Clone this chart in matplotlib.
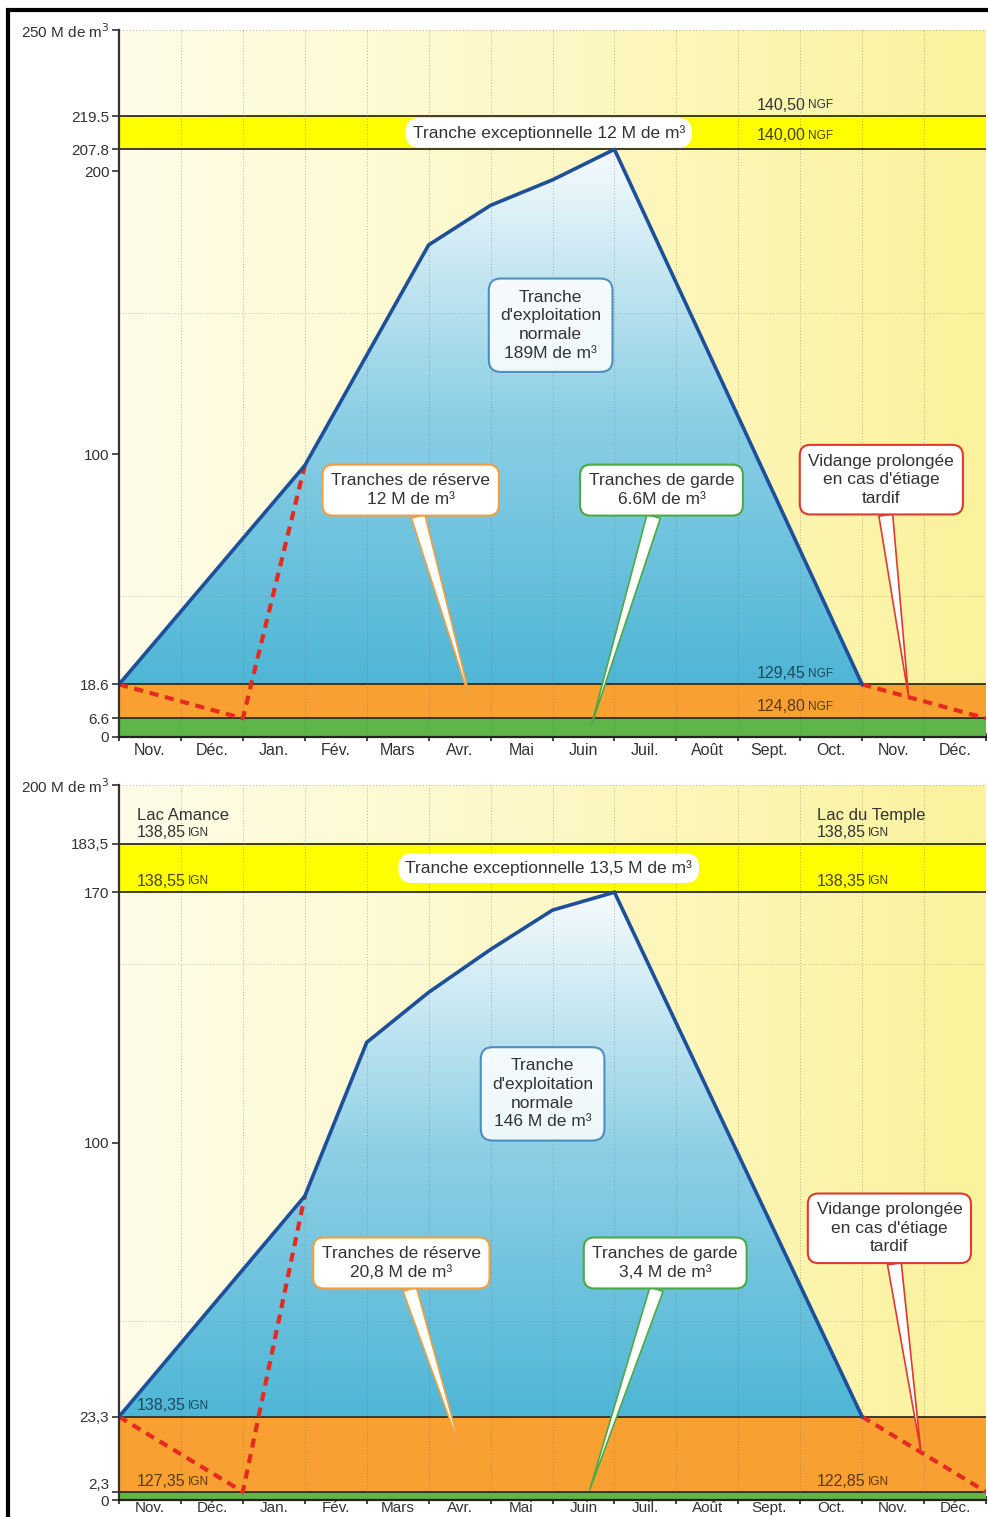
import numpy as np
import matplotlib
matplotlib.use("Agg")
import matplotlib.pyplot as plt
from matplotlib.patches import Polygon, Rectangle
from matplotlib.colors import LinearSegmentedColormap

plt.rcParams['font.family'] = ['Liberation Sans', 'DejaVu Sans']

# ---- data -------------------------------------------------------------
months = ["Nov.", "Déc.", "Jan.", "Fév.", "Mars", "Avr.", "Mai", "Juin",
          "Juil.", "Août", "Sept.", "Oct.", "Nov.", "Déc."]

# top reservoir (M de m3)
top_x = [0, 3, 5, 6, 7, 8, 12]
top_y = [18.6, 96, 174, 188, 197, 207.8, 18.6]
top_reserve_x = [0, 2, 3]
top_reserve_y = [18.6, 6.6, 96]
top_late_x = [12, 14]
top_late_y = [18.6, 6.6]
top_levels = [0, 6.6, 18.6, 207.8, 219.5]
top_ticks = [0, 6.6, 18.6, 100, 200, 207.8, 219.5, 250]
top_ticklabels = ["0", "6.6", "18.6", "100", "200", "207.8", "219.5", "250 M de m$^3$"]

# bottom reservoirs (M de m3)
bot_x = [0, 3, 4, 5, 6, 7, 8, 12]
bot_y = [23.3, 85, 128, 142, 154, 165, 170, 23.3]
bot_reserve_x = [0, 2, 3]
bot_reserve_y = [23.3, 2.3, 85]
bot_late_x = [12, 14]
bot_late_y = [23.3, 2.3]
bot_levels = [0, 2.3, 23.3, 170, 183.5]
bot_ticks = [0, 2.3, 23.3, 100, 170, 183.5, 200]
bot_ticklabels = ["0", "2,3", "23,3", "100", "170", "183,5", "200 M de m$^3$"]

# ---- style ------------------------------------------------------------
GREEN = "#5db647"
ORANGE = "#f9a033"
YELLOW = "#ffff00"
BLUE_LINE = "#1d4f9a"
RED = "#e52a20"
TXT = "#333333"

bg_cmap = LinearSegmentedColormap.from_list("bg", ["#fffde8", "#fdf8c6", "#fbf29c"])
water_cmap = LinearSegmentedColormap.from_list("water", ["#4fb6d6", "#8ccfe5", "#f6fbfd"])

fig = plt.figure(figsize=(9.88, 15.17), dpi=100)
W, H = 988, 1517


def px_axes(left, top, right, bottom):
    return fig.add_axes([left / W, 1 - bottom / H, (right - left) / W, (bottom - top) / H])


def level_text(ax, x, y, num, unit, color, va="bottom"):
    t = ax.text(x, y, num, fontsize=11.5, color=color, va=va, ha="left")
    ax.annotate(unit, xy=(1, 0), xycoords=t, xytext=(1.5, 1), textcoords="offset points",
                fontsize=8.5, color=color, va="bottom", ha="left")


def callout(ax, text, box_xy, tip_xy, ec):
    ax.annotate(text, xy=tip_xy, xytext=box_xy, ha="center", va="center",
                fontsize=12.5, color=TXT, zorder=8, linespacing=1.3,
                bbox=dict(boxstyle="round,pad=0.5,rounding_size=0.6", fc="white", ec=ec, lw=1.5),
                arrowprops=dict(arrowstyle="wedge,tail_width=0.8", fc="white", ec=ec, lw=1.2,
                                shrinkA=0, shrinkB=0))


def panel(ax, ymax, cx, cy, rx, ry, lx, ly, levels, ticks, ticklabels, xpad=4, xsize=11.5):
    ax.set_xlim(0, 14)
    ax.set_ylim(0, ymax)
    # background gradient
    grad = np.linspace(0, 1, 256).reshape(1, -1)
    ax.imshow(grad, extent=[0, 14, 0, ymax], aspect="auto", cmap=bg_cmap, zorder=0)
    # water body between curve and upper orange level
    base = levels[2]
    water = Polygon(list(zip(cx, cy)), closed=True, fc="none", ec="none")
    ax.add_patch(water)
    vgrad = np.linspace(0, 1, 256).reshape(-1, 1)
    im = ax.imshow(vgrad, extent=[0, 14, base, max(cy)], origin="lower", aspect="auto",
                   cmap=water_cmap, zorder=1)
    im.set_clip_path(water)
    # bands
    ax.axhspan(levels[0], levels[1], color=GREEN, zorder=2, lw=0)
    ax.axhspan(levels[1], levels[2], color=ORANGE, zorder=2, lw=0)
    ax.axhspan(levels[3], levels[4], color=YELLOW, zorder=2, lw=0)
    for lv in levels[1:]:
        ax.axhline(lv, color="#2e2e22", lw=1.3, zorder=3)
    # grid
    for m in range(1, 14):
        ax.axvline(m, color="#6f6f6f", lw=0.7, ls=(0, (1, 2)), alpha=0.5, zorder=4)
    for g in (50, 150):
        ax.axhline(g, color="#8a8a8a", lw=0.7, ls=(0, (1, 2)), alpha=0.5, zorder=4)
    ax.axhline(ymax, color="#8a8a8a", lw=0.8, ls=(0, (1, 2)), alpha=0.5, zorder=4, clip_on=False)
    # lines
    ax.plot(cx, cy, color=BLUE_LINE, lw=2.6, zorder=6, solid_joinstyle="miter")
    ax.plot(rx, ry, color=RED, lw=3, ls=(0, (2.2, 1.6)), zorder=5)
    ax.plot(lx, ly, color=RED, lw=3, ls=(0, (2.2, 1.6)), zorder=5)
    # axes
    for s in ("top", "right"):
        ax.spines[s].set_visible(False)
    ax.spines["left"].set_color("#333333")
    ax.spines["left"].set_linewidth(1.6)
    ax.spines["bottom"].set_color("#222222")
    ax.spines["bottom"].set_linewidth(1.6)
    ax.spines["left"].set_zorder(7)
    ax.spines["bottom"].set_zorder(7)
    ax.set_yticks(ticks)
    ax.set_yticklabels(ticklabels, fontsize=11, color=TXT)
    ax.tick_params(axis="y", direction="out", length=5, width=1.2, color="#333333", pad=2)
    ax.set_xticks(range(15))
    ax.set_xticklabels([])
    ax.set_xticks(np.arange(14) + 0.5, minor=True)
    ax.set_xticklabels(months, minor=True, fontsize=xsize, color=TXT)
    ax.tick_params(axis="x", which="major", direction="inout", length=6, width=1.2, color="#222222")
    ax.tick_params(axis="x", which="minor", length=0, pad=xpad)


# ---- top panel ---------------------------------------------------------
ax1 = px_axes(119, 30, 986, 737)
panel(ax1, 250, top_x, top_y, top_reserve_x, top_reserve_y, top_late_x, top_late_y,
      top_levels, top_ticks, top_ticklabels)

level_text(ax1, 10.3, 220.8, "140,50", "NGF", TXT)
level_text(ax1, 10.3, 210.0, "140,00", "NGF", "#45431a")
level_text(ax1, 10.3, 19.8, "129,45", "NGF", "#1d4a5c")
level_text(ax1, 10.3, 8.0, "124,80", "NGF", "#5b3a12")

ax1.text(6.94, 213.65, "Tranche exceptionnelle 12 M de m³", ha="center", va="center",
         fontsize=12.5, color=TXT, zorder=8,
         bbox=dict(boxstyle="round,pad=0.4,rounding_size=0.8", fc="white", ec="none"))
ax1.text(6.97, 145.6, "Tranche\nd'exploitation\nnormale\n189M de m³", ha="center", va="center",
         fontsize=12.5, color=TXT, zorder=8, linespacing=1.3,
         bbox=dict(boxstyle="round,pad=0.65,rounding_size=0.7", fc="white", ec="#3a7fb5", lw=1.5, alpha=0.85))
callout(ax1, "Tranches de réserve\n12 M de m³", (4.71, 87.3), (5.71, 10.2), "#f0a040")
callout(ax1, "Tranches de garde\n6.6M de m³", (8.76, 87.3), (7.63, 4.2), "#4caa44")
callout(ax1, "Vidange prolongée\nen cas d'étiage\ntardif", (12.31, 91),
        (12.75, np.interp(12.75, top_late_x, top_late_y)), "#e03a30")

# ---- bottom panel ------------------------------------------------------
ax2 = px_axes(119, 785, 986, 1500)
panel(ax2, 200, bot_x, bot_y, bot_reserve_x, bot_reserve_y, bot_late_x, bot_late_y,
      bot_levels, bot_ticks, bot_ticklabels, xpad=1, xsize=11)
ax2.get_yticklabels()[1].set_verticalalignment("bottom")

ax2.text(0.29, 189.5, "Lac Amance", fontsize=12, color=TXT, va="bottom")
level_text(ax2, 0.29, 184.5, "138,85", "IGN", TXT)
level_text(ax2, 0.29, 171.0, "138,55", "IGN", "#45431a")
ax2.text(11.27, 189.5, "Lac du Temple", fontsize=12, color=TXT, va="bottom")
level_text(ax2, 11.27, 184.5, "138,85", "IGN", TXT)
level_text(ax2, 11.27, 171.0, "138,35", "IGN", "#45431a")
level_text(ax2, 0.29, 24.3, "138,35", "IGN", "#1d4a5c")
level_text(ax2, 0.29, 3.0, "127,35", "IGN", "#5b3a12")
level_text(ax2, 11.27, 3.0, "122,85", "IGN", "#5b3a12")

ax2.text(6.94, 176.75, "Tranche exceptionnelle 13,5 M de m³", ha="center", va="center",
         fontsize=12.5, color=TXT, zorder=8,
         bbox=dict(boxstyle="round,pad=0.4,rounding_size=0.8", fc="white", ec="none"))
ax2.text(6.84, 113.6, "Tranche\nd'exploitation\nnormale\n146 M de m³", ha="center", va="center",
         fontsize=12.5, color=TXT, zorder=8, linespacing=1.3,
         bbox=dict(boxstyle="round,pad=0.65,rounding_size=0.7", fc="white", ec="#3a7fb5", lw=1.5, alpha=0.85))
callout(ax2, "Tranches de réserve\n20,8 M de m³", (4.56, 66.3), (5.53, 13.4), "#f0a040")
callout(ax2, "Tranches de garde\n3,4 M de m³", (8.82, 66.3), (7.6, 2.8), "#4caa44")
callout(ax2, "Vidange prolongée\nen cas d'étiage\ntardif", (12.44, 76),
        (12.95, np.interp(12.95, bot_late_x, bot_late_y)), "#e03a30")

# outer frame
fig.patches.append(Rectangle((8 / W, -0.01), 1.0, 1 - 10 / H + 0.01, transform=fig.transFigure,
                             fill=False, ec="black", lw=3))

fig.savefig("out.png", dpi=100)
